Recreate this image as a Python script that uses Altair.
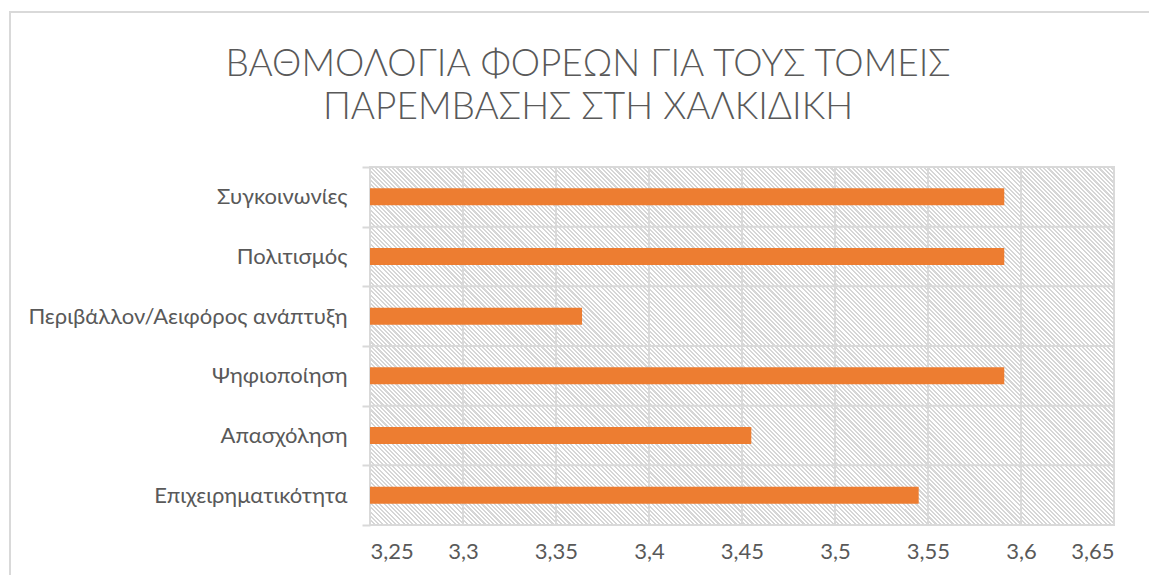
import altair as alt
import pandas as pd

CATEGORIES = [
    "Συγκοινωνίες",
    "Πολιτισμός",
    "Περιβάλλον/Αειφόρος ανάπτυξη",
    "Ψηφιοποίηση",
    "Απασχόληση",
    "Επιχειρηματικότητα",
]
SCORES = [3.591, 3.591, 3.364, 3.591, 3.455, 3.545]
X_TICKS = [3.25, 3.3, 3.35, 3.4, 3.45, 3.5, 3.55, 3.6, 3.65]
TITLE = ["ΒΑΘΜΟΛΟΓΙΑ ΦΟΡΕΩΝ ΓΙΑ ΤΟΥΣ ΤΟΜΕΙΣ", "ΠΑΡΕΜΒΑΣΗΣ ΣΤΗ ΧΑΛΚΙΔΙΚΗ"]

df = pd.DataFrame({"category": CATEGORIES, "score": SCORES})
ticks_df = pd.DataFrame({"score": X_TICKS})
rows_df = pd.DataFrame({"category": CATEGORIES})

GRID = "#d9d9d9"
HATCH = "#d6d6d6"
TEXT = "#595959"
FONT = "Lato"
W, H = 744, 358


def hatch_gradient(w, h, period=3.0):
    # diagonal "\\" stripes, expressed in bounding-box units
    c = (w + h) / (w * w + h * h)
    span = (w + h) / 2 ** 0.5
    n = int(span / period)
    stops = []
    for i in range(n):
        a, m, b = i / n, (i + 0.5) / n, (i + 1) / n
        stops += [
            alt.GradientStop(offset=a, color=HATCH),
            alt.GradientStop(offset=m, color=HATCH),
            alt.GradientStop(offset=m, color="#ffffff"),
            alt.GradientStop(offset=b, color="#ffffff"),
        ]
    return alt.LinearGradient(
        gradient="linear", stops=stops, x1=0, y1=1, x2=c * w, y2=1 - c * h
    )


x_axis = alt.Axis(
    values=X_TICKS,
    title=None,
    domain=False,
    ticks=False,
    grid=False,
    labelFont=FONT,
    labelFontSize=22,
    labelColor=TEXT,
    labelPadding=16,
    labelExpr="replace(format(datum.value, '.2~f'), '.', ',')",
)
x_scale = alt.Scale(domain=[X_TICKS[0], X_TICKS[-1]], nice=False, zero=False)
y_axis = alt.Axis(
    title=None,
    domain=False,
    ticks=True,
    tickBand="extent",
    tickSize=8,
    tickColor=GRID,
    tickWidth=2,
    grid=False,
    labelFont=FONT,
    labelFontSize=22,
    labelColor=TEXT,
    labelPadding=15,
    labelLimit=500,
)
y_scale = alt.Scale(paddingInner=0, paddingOuter=0)

frame = alt.Chart(df).mark_rect(
    fillOpacity=0, stroke=GRID, strokeWidth=1.5
).encode(
    x=alt.value(-360), x2=alt.value(800), y=alt.value(-155), y2=alt.value(480)
)

hatch = alt.Chart(df).mark_rect(
    color=hatch_gradient(W, H), stroke=GRID, strokeWidth=2
).encode(
    x=alt.value(0), x2=alt.value(W), y=alt.value(0), y2=alt.value(H)
)

vgrid = alt.Chart(ticks_df).mark_rule(color=GRID, strokeWidth=2).encode(
    x=alt.X("score:Q", scale=x_scale, axis=x_axis)
)

hgrid = alt.Chart(rows_df).mark_rule(color=GRID, strokeWidth=2).encode(
    y=alt.Y("category:N", sort=CATEGORIES, scale=y_scale, axis=y_axis, bandPosition=0)
)

bars = alt.Chart(df).mark_bar(color="#ED7D31", size=17).encode(
    x=alt.X("score:Q", scale=x_scale, axis=x_axis),
    x2=alt.datum(X_TICKS[0]),
    y=alt.Y("category:N", sort=CATEGORIES, scale=y_scale, axis=y_axis),
)

chart = (
    alt.layer(frame, hatch, vgrid, hgrid, bars)
    .properties(
        width=W,
        height=H,
        autosize=alt.AutoSizeParams(type="none"),
        padding={"left": 362, "top": 159, "right": 35, "bottom": 50},
        title=alt.TitleParams(
            text=TITLE,
            font=FONT,
            fontSize=37,
            fontWeight=300,
            color=TEXT,
            lineHeight=43,
            anchor="middle",
            frame="group",
            dx=-154,
            offset=-116,
        ),
    )
    .configure_view(fill="#ececec", stroke=None)
    .configure(background="white")
)

chart.save("out.html", embed_options={"renderer": "svg", "actions": False})
